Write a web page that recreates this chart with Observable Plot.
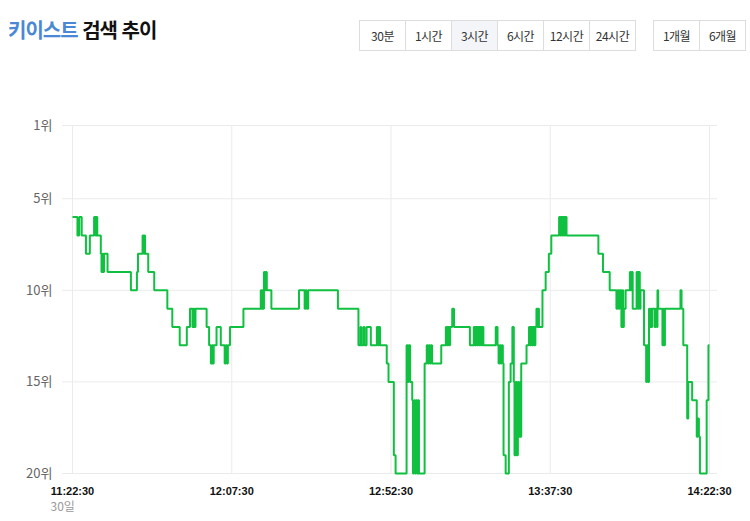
<!DOCTYPE html>
<html lang="ko">
<head>
<meta charset="utf-8">
<script src="https://cdn.jsdelivr.net/npm/d3@7"></script>
<script src="https://cdn.jsdelivr.net/npm/@observablehq/plot@0.6"></script>
<style>
  body { margin: 0; width: 750px; height: 521px; background: #fff; position: relative; overflow: hidden;
         font-family: "Noto Sans CJK KR", "Noto Sans", sans-serif; }
  .title { position: absolute; left: 8px; top: 15px; font-size: 20px; font-weight: 700; letter-spacing: -1px;
           color: #111; line-height: 30px; white-space: nowrap; }
  .title .brand { color: #4a88d6; }
  .ranges { position: absolute; top: 20px; display: flex; border: 1px solid #ddd; }
  .ranges span { width: 45px; height: 29px; display: flex; align-items: center; justify-content: center;
                 font-size: 12px; color: #333; border-left: 1px solid #ddd; letter-spacing: -0.5px; }
  .ranges span:first-child { border-left: none; }
  .ranges span.on { background: #f4f5f9; }
  #chart { position: absolute; left: 0; top: 100px; }
</style>
</head>
<body>
<div class="title"><span class="brand"></span> <span class="rest"></span></div>
<div class="ranges" id="short" style="left:359px"></div>
<div class="ranges" id="long" style="left:653px"></div>
<div id="chart"></div>
<script>
// Keyword and heading
const keyword = "키이스트";
const heading = "검색 추이";

// Period selector buttons
const shortRanges = ["30분", "1시간", "3시간", "6시간", "12시간", "24시간"];
const longRanges = ["1개월", "6개월"];
const activeRange = "3시간";

// Window start (UTC clock used as wall clock) and length in minutes
const startTime = "2023-08-30T11:22:30Z";
const windowMinutes = 180;

// Rank axis ticks and time axis ticks
const rankTicks = [1, 5, 10, 15, 20];
const timeTicks = ["11:22:30", "12:07:30", "12:52:30", "13:37:30", "14:22:30"];

// Rank change points: minutes elapsed since start, and the rank from that moment on
const elapsed = [
  0, 1.4, 1.9, 2.6, 3.8, 4.9, 6.1, 6.5, 6.75, 7.0, 8.0, 8.2, 8.5, 8.7, 8.9, 9.9,
  16.5, 18.2, 18.5, 19.8, 20.1, 20.3, 20.5, 21.4, 23.1, 26.8, 28.2, 30.3, 32.3, 33.2,
  33.9, 34.2, 34.45, 34.75, 37.9, 38.6, 39.1, 39.4, 39.65, 39.9, 40.7, 41.9,
  43.0, 43.3, 43.6, 43.9, 44.5, 48.3,
  53.2, 53.45, 53.7, 53.9, 54.1, 54.4, 54.6, 54.9, 56.2, 64.0, 65.6, 65.9, 66.2, 66.6,
  75.0, 80.8, 81.4, 81.6, 82.2, 82.5, 83.1, 84.3, 86.0, 86.3, 86.6, 86.9,
  88.8, 89.3, 90.8, 91.3, 94.4, 94.7, 95.0, 95.4, 96.0, 96.2, 96.5, 96.8, 97.1, 97.4, 97.7, 97.9,
  99.5, 100.1, 100.4, 100.7, 101.0, 101.3, 101.6, 104.2,
  105.5, 105.8, 106.1, 106.4, 106.7, 107.3, 107.8, 112.3,
  113.4, 113.7, 114.0, 114.3, 114.6, 114.9, 115.2, 115.5, 115.8, 116.1,
  119.6, 120.1, 120.4, 120.7, 121.0, 121.3, 121.6, 121.8, 122.4, 123.3, 123.8, 124.3,
  124.7, 124.9, 125.2, 125.5, 125.85, 126.1, 126.45, 126.7, 126.8, 128.3,
  129.0, 129.3, 129.6, 129.9, 130.2, 130.5, 130.8, 131.1, 131.4, 131.6, 131.8,
  132.8, 133.7, 134.6, 135.3, 137.5, 137.8, 138.1, 138.4, 138.7, 139.0, 139.3, 139.6,
  148.6, 149.9, 151.8, 153.7, 154.0, 154.3, 154.6, 155.1, 155.4, 155.6, 155.8, 156.3,
  157.5, 157.75, 158.0, 158.3, 159.4, 159.7, 160.0, 160.3, 160.5,
  161.5, 162.1, 162.4, 162.7, 162.9, 163.1, 163.4, 163.6, 163.8,
  164.5, 164.8, 165.1, 165.3, 165.5, 166.7, 167.0, 167.2, 167.4,
  171.8, 172.1, 172.6, 173.7, 174.0, 175.1, 176.4, 176.7, 177.0, 177.3, 179.2, 179.7, 180
];
const ranks = [
  6, 7, 6, 7, 8, 7, 6, 7, 6, 7, 8, 9, 8, 9, 8, 9,
  10, 9, 8, 7, 8, 7, 8, 9, 10, 11, 12, 13, 12, 11,
  12, 11, 12, 11, 12, 13, 14, 13, 14, 13, 12, 13,
  14, 13, 14, 13, 12, 11,
  10, 11, 10, 11, 9, 10, 9, 10, 11, 10, 11, 10, 11, 10,
  11, 13, 12, 13, 12, 13, 12, 13, 12, 13, 12, 13,
  14, 15, 19, 20, 13, 15, 13, 15, 16, 20, 16, 20, 16, 20, 16, 20,
  14, 13, 14, 13, 14, 13, 14, 13,
  12, 13, 12, 13, 12, 11, 12, 13,
  12, 13, 12, 13, 12, 13, 12, 13, 12, 13,
  12, 13, 14, 13, 14, 13, 14, 19, 20, 15, 14, 12,
  15, 19, 15, 19, 15, 18, 15, 18, 14, 13,
  12, 13, 12, 13, 12, 13, 12, 11, 12, 11, 12,
  10, 9, 8, 7, 6, 7, 6, 7, 6, 7, 6, 7,
  8, 9, 10, 11, 10, 11, 10, 12, 10, 12, 11, 10,
  9, 10, 9, 11, 9, 11, 9, 11, 10,
  13, 15, 13, 15, 11, 12, 11, 12, 11,
  12, 11, 12, 10, 11, 13, 11, 13, 11,
  10, 11, 13, 17, 15, 16, 18, 17, 18, 20, 16, 13, 13
];

// Header
document.querySelector(".title .brand").textContent = keyword;
document.querySelector(".title .rest").textContent = heading;
function buttons(id, labels) {
  const box = document.getElementById(id);
  for (const label of labels) {
    const b = document.createElement("span");
    b.textContent = label;
    if (label === activeRange) b.className = "on";
    box.appendChild(b);
  }
}
buttons("short", shortRanges);
buttons("long", longRanges);

// Chart
const start = new Date(startTime);
const end = new Date(+start + windowMinutes * 60000);
const day = startTime.slice(0, 11);
const tickDates = timeTicks.map(t => new Date(`${day}${t}Z`));
const rows = elapsed.map((m, i) => ({time: new Date(+start + m * 60000), rank: ranks[i]}));
const dayLabel = d3.utcFormat("%-d일")(start);
const fmt = d3.utcFormat("%H:%M:%S");

const chart = Plot.plot({
  width: 750,
  height: 421,
  marginTop: 25,
  marginBottom: 48,
  marginLeft: 62,
  marginRight: 33,
  style: {fontFamily: '"Noto Sans CJK KR", "Noto Sans", sans-serif', background: "transparent"},
  x: {type: "utc", domain: [start, end], insetLeft: 10, insetRight: 8},
  y: {domain: [1, 20], reverse: true},
  marks: [
    Plot.ruleY(rankTicks, {stroke: "#ebebeb"}),
    Plot.ruleX(tickDates, {stroke: "#ebebeb"}),
    Plot.axisY(rankTicks, {tickSize: 0, tickPadding: 10, tickFormat: d => `${d}위`,
      fontSize: 13, color: "#666", label: null}),
    Plot.axisX(tickDates, {tickSize: 0, tickPadding: 14, tickFormat: fmt,
      fontFamily: '"Liberation Sans", Arial, sans-serif',
      fontSize: 11, fontWeight: "bold", color: "#111", label: null}),
    Plot.text([start], {x: d => d, frameAnchor: "bottom", dy: 37, dx: -22, textAnchor: "start",
      text: () => dayLabel, fill: "#999", fontSize: 12}),
    Plot.line(rows, {x: "time", y: "rank", curve: "step-after", stroke: "#10c040",
      strokeWidth: 2, strokeLinejoin: "miter", strokeLinecap: "butt"})
  ]
});
document.getElementById("chart").appendChild(chart);
</script>
</body>
</html>
